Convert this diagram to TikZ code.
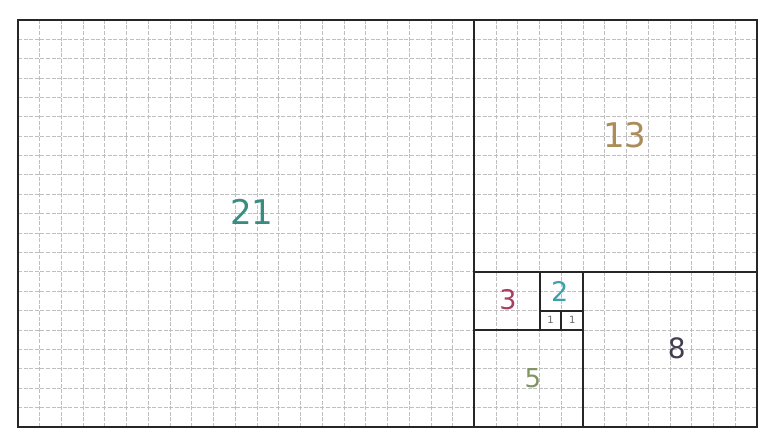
\documentclass[tikz,border=0pt]{standalone}
\usepackage{fontspec}
\setmainfont{DejaVu Sans}
\usepackage{tikz}

\definecolor{tealnum}{RGB}{58,140,128}
\definecolor{tannum}{RGB}{172,140,88}
\definecolor{rosenum}{RGB}{168,62,100}
\definecolor{cyannum}{RGB}{62,160,170}
\definecolor{olivenum}{RGB}{128,148,100}
\definecolor{darknum}{RGB}{68,60,80}

\begin{document}
\begin{tikzpicture}[
        x=10.87pt, y=9.69pt,
        gridline/.style={
            draw=gray!50,
            line width=0.5pt,
            dash pattern=on 2pt off 0.8pt,
            step=1
        },
        frame/.style={
            draw=black!85,
            line width=1.4pt
        },
        square/.style={
            draw=black!85,
            line width=1pt
        },
        num/.style={
            font=\fontsize{14}{14}\selectfont,
            inner sep=1pt
        },
        big/.style={
            font=\fontsize{17}{17}\selectfont
        },
        unit/.style={
            font=\fontsize{5}{5}\selectfont,
            text=black!60,
            inner sep=0pt
        }
    ]
    \useasboundingbox[fill=white] (-0.828,-0.774) rectangle (34.64,22.03);

    \draw[gridline] (0,0) grid (34,21);

    % squares of the spiral
    \draw[square] (21,0) -- (21,21);
    \draw[square] (21,8) -- (34,8);
    \draw[square] (26,0) -- (26,8);
    \draw[square] (21,5) -- (26,5);
    \draw[square] (24,5) -- (24,8);
    \draw[square] (24,6) -- (26,6);
    \draw[square] (25,5) -- (25,6);
    \draw[frame] (0,0) rectangle (34,21);

    \node[num, big, text=tealnum] (n21) at (10.76,11.09) {21};
    \node[num, big, text=tannum] (n13) at (27.92,15.07) {13};
    \node[num, text=darknum] (n8) at (30.31,4.08) {8};
    \node[num, text=olivenum, font=\fontsize{13}{13}\selectfont] (n5) at (23.69,2.53) {5};
    \node[num, text=rosenum, font=\fontsize{13.5}{13.5}\selectfont] (n3) at (22.54,6.55) {3};
    \node[num, text=cyannum, font=\fontsize{13.5}{13.5}\selectfont] (n2) at (24.92,7.0) {2};
    \node[unit] (n1a) at (24.5,5.5) {1};
    \node[unit] (n1b) at (25.5,5.5) {1};
\end{tikzpicture}
\end{document}
